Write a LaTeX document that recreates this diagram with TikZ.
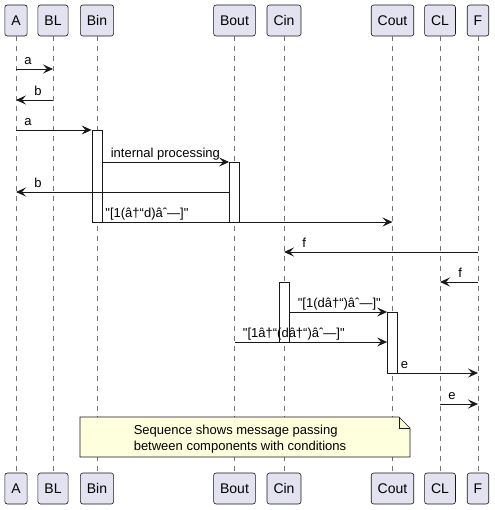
\documentclass[tikz,border=0pt]{standalone}
\usepackage{fontspec}
\setmainfont{Liberation Sans}[Ligatures=TeXOff]
\usetikzlibrary{arrows.meta}
\definecolor{headfill}{HTML}{E2E2F0}
\definecolor{notefill}{HTML}{FEFFDD}
\definecolor{umlline}{HTML}{181818}

\begin{document}
\begin{tikzpicture}[x=1pt,y=-1pt,->,>={Stealth[length=10pt,width=9pt,inset=4pt]},
    part/.style={draw=umlline,fill=headfill,rounded corners=2.5pt,line width=0.6pt,
        minimum height=31pt,inner xsep=6.5pt,font=\fontsize{14}{16}\selectfont},
    life/.style={-,draw=black!55,line width=0.5pt,dash pattern=on 5pt off 5pt},
    act/.style={-,draw=umlline,fill=white,line width=0.8pt,minimum width=10pt,inner sep=0pt,anchor=north},
    msg/.style={draw=umlline,line width=0.9pt},
    lbl/.style={font=\fontsize{13}{15}\selectfont,inner sep=0pt,anchor=base west,yshift=4.5pt},
    note/.style={-,draw=umlline,fill=notefill,line width=0.6pt}]
        \useasboundingbox (0,0) rectangle (494,510);
        % participants, top and bottom
        \node[part] (A) at (16,20.5) {A};
        \node[part] (BL) at (53,20.5) {BL};
        \node[part] (Bin) at (97,20.5) {Bin};
        \node[part] (Bout) at (234.5,20.5) {Bout};
        \node[part] (Cin) at (284,20.5) {Cin};
        \node[part] (Cout) at (392.5,20.5) {Cout};
        \node[part] (CL) at (440,20.5) {CL};
        \node[part] (F) at (478,20.5) {F};
        \node[part] (Af) at (16,488.5) {A};
        \node[part] (BLf) at (53,488.5) {BL};
        \node[part] (Binf) at (97,488.5) {Bin};
        \node[part] (Boutf) at (234.5,488.5) {Bout};
        \node[part] (Cinf) at (284,488.5) {Cin};
        \node[part] (Coutf) at (392.5,488.5) {Cout};
        \node[part] (CLf) at (440,488.5) {CL};
        \node[part] (Ff) at (478,488.5) {F};
        \foreach \p in {A,BL,Bin,Bout,Cin,Cout,CL,F}
            \draw[life] (\p) -- (\p f);
        % message rows
        \coordinate (r1) at (0,69);
        \coordinate (r2) at (0,100);
        \coordinate (r3) at (0,130);
        \coordinate (r4) at (0,162);
        \coordinate (r5) at (0,192);
        \coordinate (r6) at (0,222);
        \coordinate (r7) at (0,252);
        \coordinate (r8) at (0,282);
        \coordinate (r9) at (0,312);
        \coordinate (r10) at (0,342);
        \coordinate (r11) at (0,373);
        \coordinate (r12) at (0,404);
        % activations
        \node[act,minimum height=92pt] (actBin) at (Bin |- r3) {};
        \node[act,minimum height=60pt] (actBout) at (Bout |- r4) {};
        \node[act,minimum height=60pt] (actCin) at (Cin |- r8) {};
        \node[act,minimum height=61pt] (actCout) at (Cout |- r9) {};
        % messages
        \path (A |- r1) edge[msg] node[lbl,pos=0,xshift=8pt] {a} (BL |- r1);
        \path (BL |- r2) edge[msg] node[lbl,pos=1,xshift=18pt] {b} (A |- r2);
        \path (A |- r3) edge[msg] node[lbl,pos=0,xshift=8pt] {a} (actBin.north west);
        \path (actBin.east |- r4) edge[msg] node[lbl,pos=0,xshift=8pt] {internal processing} (actBout.north west);
        \path (actBout.west |- r5) edge[msg] node[lbl,pos=1,xshift=18pt] {b} (A |- r5);
        \path (Bin |- r6) edge[msg] node[lbl,pos=0,xshift=8pt] {"[1(â†“d)âˆ—]"} (Cout |- r6);
        \path (F |- r7) edge[msg] node[lbl,pos=1,xshift=18pt] {f} (Cin |- r7);
        \path (F |- r8) edge[msg] node[lbl,pos=1,xshift=18pt] {f} (CL |- r8);
        \path (actCin.east |- r9) edge[msg] node[lbl,pos=0,xshift=8pt] {"[1(dâ†“)âˆ—]"} (actCout.north west);
        \path (Bout |- r10) edge[msg] node[lbl,pos=0,xshift=8pt] {"[1â†“(dâ†“)âˆ—]"} (actCout.west |- r10);
        \path (Cout |- r11) edge[msg] node[lbl,pos=0,xshift=8pt] {e} (F |- r11);
        \path (CL |- r12) edge[msg] node[lbl,pos=0,xshift=8pt] {e} (F |- r12);
        % note
        \draw[note] (80,417) -- (399,417) -- (410,428) -- (410,457) -- (80,457) -- cycle;
        \draw[note,fill=none] (399,417) -- (399,428) -- (410,428);
        \node[align=left,inner sep=0pt,font=\fontsize{13}{16}\selectfont] (noteText) at (240,439)
            {Sequence shows message passing\\between components with conditions};
    \end{tikzpicture}
\end{document}
